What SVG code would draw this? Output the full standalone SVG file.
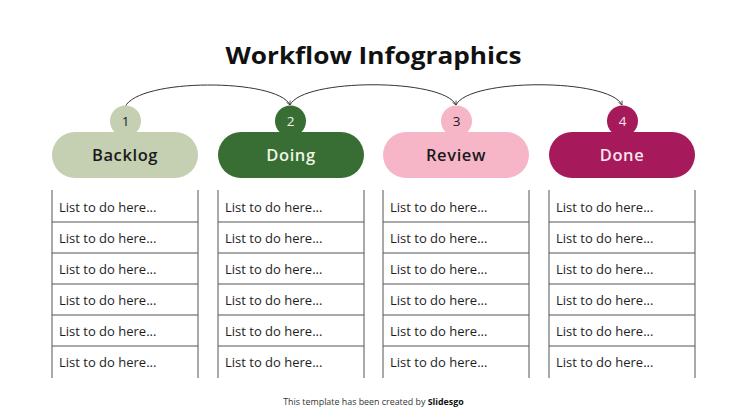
<svg xmlns="http://www.w3.org/2000/svg" width="747" height="420" viewBox="0 0 747 420">
<defs>
<style>
.title{font-family:"Open Sans","Noto Sans",sans-serif;font-weight:700;font-size:24px;fill:#111}
.lbl{font-family:"Open Sans","Noto Sans",sans-serif;font-weight:600;font-size:16.5px;letter-spacing:0.6px;text-anchor:middle}
.num{font-family:"Open Sans","Noto Sans",sans-serif;font-weight:400;font-size:13.5px;text-anchor:middle}
.item{font-family:"Open Sans","Noto Sans",sans-serif;font-size:13px;fill:#1e1e1e}
.grid{stroke:#555;stroke-width:1;fill:none}
.conn{stroke:#333;stroke-width:1;fill:none;marker-end:url(#arr)}
.foot{font-family:"Open Sans","Noto Sans",sans-serif;font-size:8.9px;fill:#333;text-anchor:middle}
</style>
<marker id="arr" viewBox="0 0 10 10" refX="9" refY="5" markerWidth="5" markerHeight="5" orient="auto" markerUnits="userSpaceOnUse">
<path d="M1,1 L9,5 L1,9" fill="none" stroke="#333" stroke-width="1.5"/>
</marker>
<g id="rows">
<line x1="0" y1="0" x2="0" y2="188"/>
<line x1="146" y1="0" x2="146" y2="188"/>
<line x1="0" y1="32" x2="146" y2="32"/>
<line x1="0" y1="63" x2="146" y2="63"/>
<line x1="0" y1="94" x2="146" y2="94"/>
<line x1="0" y1="125" x2="146" y2="125"/>
<line x1="0" y1="156" x2="146" y2="156"/>
</g>
<g id="texts">
<text x="7" y="21.5">List to do here...</text>
<text x="7" y="52.5">List to do here...</text>
<text x="7" y="83.5">List to do here...</text>
<text x="7" y="114.5">List to do here...</text>
<text x="7" y="145.5">List to do here...</text>
<text x="7" y="176.5">List to do here...</text>
</g>
</defs>
<rect width="747" height="420" fill="#fff"/>
<text class="title" x="373.5" y="64" text-anchor="middle" textLength="296" lengthAdjust="spacingAndGlyphs">Workflow Infographics</text>

<g id="connectors">
<path class="conn" d="M125,107 C138,78 277,78 290,105"/>
<path class="conn" d="M290,105 C303,78 443,78 456,105"/>
<path class="conn" d="M456,105 C469,78 609,78 622,105"/>
</g>

<g id="backlog">
<circle cx="125.5" cy="121" r="15.5" fill="#c5cfb1"/>
<rect x="52" y="132" width="146" height="46" rx="23" fill="#c5cfb1"/>
<text class="num" x="125.5" y="126" fill="#1a1a1a">1</text>
<text class="lbl" x="125" y="161" fill="#1a1a1a">Backlog</text>
<use href="#rows" x="52" y="190" class="grid"/>
<use href="#texts" x="52" y="190" class="item"/>
</g>
<g id="doing">
<circle cx="290.5" cy="121" r="15.5" fill="#386d34"/>
<rect x="218" y="132" width="146" height="46" rx="23" fill="#386d34"/>
<text class="num" x="290.5" y="126" fill="#f0f5e8">2</text>
<text class="lbl" x="291" y="161" fill="#f0f5e8">Doing</text>
<use href="#rows" x="218" y="190" class="grid"/>
<use href="#texts" x="218" y="190" class="item"/>
</g>
<g id="review">
<circle cx="456.5" cy="121" r="15.5" fill="#f7b6c8"/>
<rect x="383" y="132" width="146" height="46" rx="23" fill="#f7b6c8"/>
<text class="num" x="456.5" y="126" fill="#1a1a1a">3</text>
<text class="lbl" x="456" y="161" fill="#1a1a1a">Review</text>
<use href="#rows" x="383" y="190" class="grid"/>
<use href="#texts" x="383" y="190" class="item"/>
</g>
<g id="done">
<circle cx="622.5" cy="121" r="15.5" fill="#a6195a"/>
<rect x="549" y="132" width="146" height="46" rx="23" fill="#a6195a"/>
<text class="num" x="622.5" y="126" fill="#f8e6ee">4</text>
<text class="lbl" x="622" y="161" fill="#f8e6ee">Done</text>
<use href="#rows" x="549" y="190" class="grid"/>
<use href="#texts" x="549" y="190" class="item"/>
</g>

<text class="foot" x="373.5" y="405">This template has been created by <tspan font-weight="700" fill="#111">Slidesgo</tspan></text>
</svg>
